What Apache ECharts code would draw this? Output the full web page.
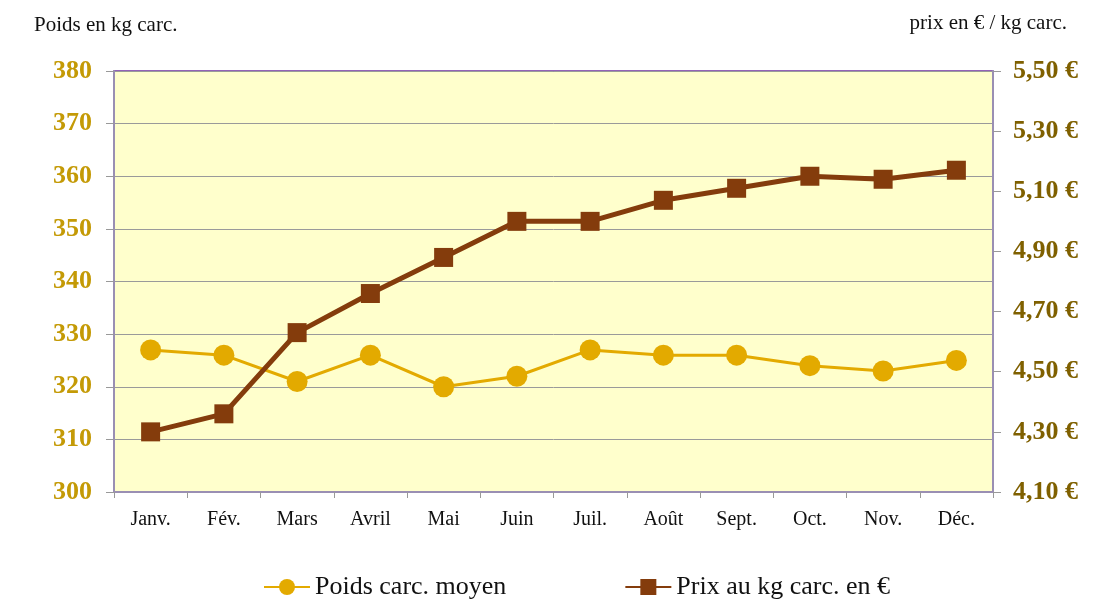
<!DOCTYPE html>
<html lang="fr">
<head>
    <meta charset="UTF-8">
    <title>Poids et prix carcasse</title>
    <script src="https://cdn.jsdelivr.net/npm/echarts@6/dist/echarts.min.js"></script>
</head>
<body style="margin:0">
<div id="chart" style="width:1104px;height:605px"></div>
<script type="text/javascript">
    var mois = ['Janv.', 'Fév.', 'Mars', 'Avril', 'Mai', 'Juin', 'Juil.', 'Août', 'Sept.', 'Oct.', 'Nov.', 'Déc.'];
    var poids = [327, 326, 321, 326, 320, 322, 327, 326, 326, 324, 323, 325];
    var prix = [4.30, 4.36, 4.63, 4.76, 4.88, 5.00, 5.00, 5.07, 5.11, 5.15, 5.14, 5.17];

    var serif = 'Liberation Serif';
    var chart = echarts.init(document.getElementById('chart'));

    chart.setOption({
        backgroundColor: '#ffffff',
        textStyle: { fontFamily: serif },
        title: [
            { text: 'Poids en kg carc.', left: 29, top: 10,
              textStyle: { fontFamily: serif, fontSize: 21, fontWeight: 'normal', color: '#111' } },
            { text: 'prix en € / kg carc.', right: 32, top: 8,
              textStyle: { fontFamily: serif, fontSize: 21, fontWeight: 'normal', color: '#111' } }
        ],
        grid: {
            left: 114, right: 111, top: 71, bottom: 113,
            show: true,
            backgroundColor: '#FFFFCC',
            borderColor: '#7030A0',
            borderWidth: 1.5
        },
        legend: {
            left: 258,
            bottom: 0,
            itemGap: 118,
            itemWidth: 46,
            itemHeight: 20,
            textStyle: { fontFamily: serif, fontSize: 26, color: '#111' },
            data: ['Poids carc. moyen', 'Prix au kg carc. en €']
        },
        xAxis: {
            type: 'category',
            data: mois,
            boundaryGap: true,
            axisLine: { lineStyle: { color: '#9A8FB3', width: 2 } },
            axisTick: { show: true, length: 6, lineStyle: { color: '#999' } },
            axisLabel: { fontFamily: serif, fontSize: 20, color: '#111', margin: 18 }
        },
        yAxis: [
            {
                type: 'value', min: 300, max: 380, interval: 10,
                axisLine: { show: true, lineStyle: { color: '#9A8FB3', width: 2 } },
                axisTick: { show: true, length: 8, lineStyle: { color: '#999' } },
                axisLabel: { fontFamily: serif, fontSize: 26, fontWeight: 'bold', color: '#C49A06', margin: 22 },
                splitLine: { lineStyle: { color: '#9a9a9a', width: 1 } }
            },
            {
                type: 'value', min: 4.1, max: 5.5, interval: 0.2, position: 'right',
                axisLine: { show: true, lineStyle: { color: '#9A8FB3', width: 2 } },
                axisTick: { show: true, length: 8, lineStyle: { color: '#999' } },
                axisLabel: {
                    fontFamily: serif, fontSize: 26, fontWeight: 'bold', color: '#7F6000', margin: 20,
                    formatter: function (v) { return v.toFixed(2).replace('.', ',') + ' €'; }
                },
                splitLine: { show: false }
            }
        ],
        series: [
            {
                name: 'Poids carc. moyen',
                type: 'line',
                yAxisIndex: 0,
                data: poids,
                symbol: 'circle',
                symbolSize: 21,
                itemStyle: { color: '#E3AA00' },
                lineStyle: { color: '#E3AA00', width: 3 },
                z: 3
            },
            {
                name: 'Prix au kg carc. en €',
                type: 'line',
                yAxisIndex: 1,
                data: prix,
                symbol: 'rect',
                symbolSize: 19,
                itemStyle: { color: '#843C0C' },
                lineStyle: { color: '#843C0C', width: 5 },
                z: 4
            }
        ]
    });
</script>
</body>
</html>
